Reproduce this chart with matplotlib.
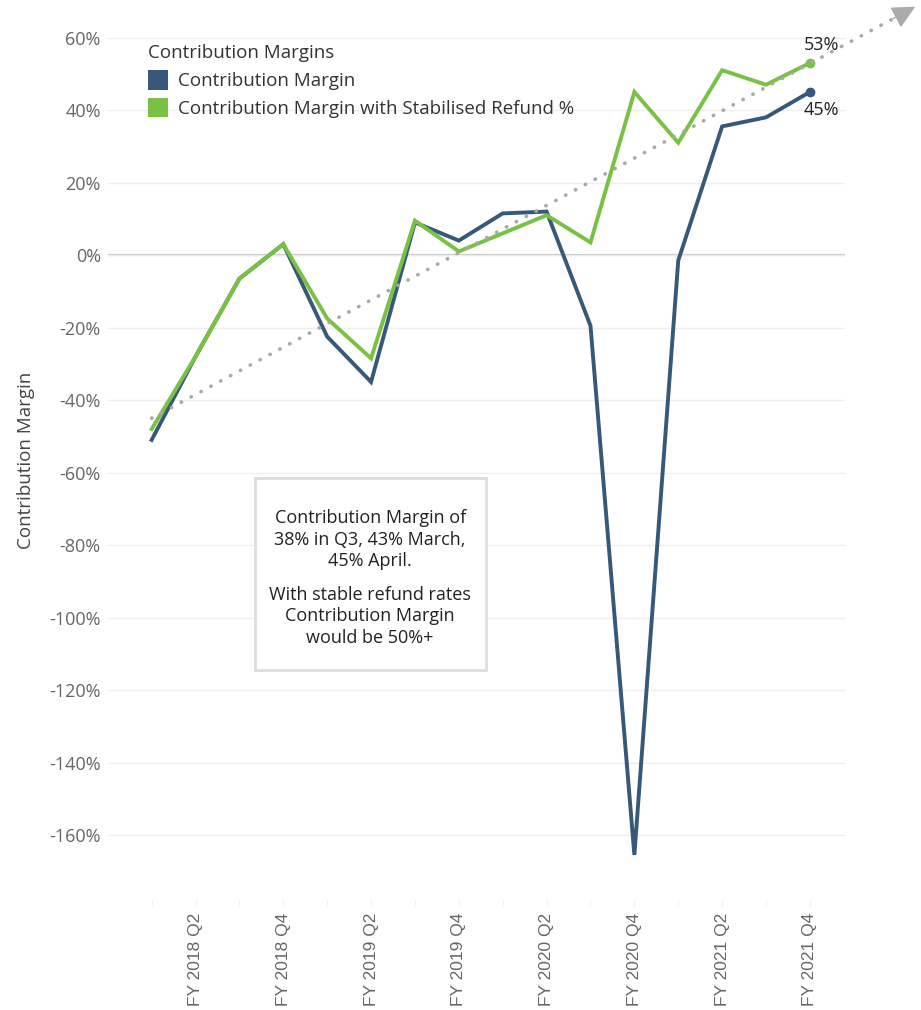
import matplotlib.pyplot as plt
import numpy as np

quarters = [f"FY {y} Q{q}" for y in (2018, 2019, 2020, 2021) for q in (1, 2, 3, 4)]
margin = [-51, -28, -6.5, 3, -22.5, -35, 9, 4, 11.5, 12, -19.5, -165.5, -1.5, 35.5, 38, 45]
margin_stable = [-48, -28, -6.5, 3, -17.5, -28.5, 9.5, 1, 6, 11, 3.5, 45, 31, 51, 47, 53]
trend_x = [0, 17.4]
trend_y = [-45, 68.5]

note_1 = "Contribution Margin of\n38% in Q3, 43% March,\n45% April."
note_2 = "With stable refund rates\nContribution Margin\nwould be 50%+"

blue = '#36597a'
green = '#78c143'
grey = '#666666'

plt.rcParams['font.family'] = ['Open Sans', 'DejaVu Sans']

fig = plt.figure(figsize=(9.21, 10.10), dpi=100)
ax = fig.add_axes([0.117, 0.109, 0.8005, 0.871])

x = np.arange(len(quarters))
ax.plot(x, margin, color=blue, lw=2.8, solid_joinstyle='miter', zorder=3)
ax.plot(x, margin_stable, color=green, lw=2.8, solid_joinstyle='miter', zorder=4)
ax.plot(x[-1], margin[-1], 'o', color=blue, ms=6, zorder=5)
ax.plot(x[-1], margin_stable[-1], 'o', color=green, ms=6, zorder=5)

# trend arrow, runs past the plot area
slope = (trend_y[1] - trend_y[0]) / (trend_x[1] - trend_x[0])
ax.plot([trend_x[0], trend_x[1] - 0.35], [trend_y[0], trend_y[1] - 0.35 * slope],
        color='#a8a8a8', lw=2.6, linestyle=(0, (0.1, 3.0)), dash_capstyle='round', clip_on=False, zorder=6)
ax.annotate('', xy=(trend_x[1], trend_y[1]), xytext=(trend_x[1] - 0.5, trend_y[1] - 0.5 * slope),
            arrowprops=dict(arrowstyle='-|>,head_length=0.9,head_width=0.45', color='#aaaaaa',
                            lw=1, shrinkA=0, shrinkB=0, mutation_scale=16),
            annotation_clip=False)

ax.text(x[-1] + 0.27, margin_stable[-1] + 2.5, f"{margin_stable[-1]}%", fontsize=13, color='#222222', ha='center', va='bottom')
ax.text(x[-1] + 0.27, margin[-1] - 2.5, f"{margin[-1]}%", fontsize=13, color='#222222', ha='center', va='top')

ax.set_xlim(-1.0, 15.8)
ax.set_ylim(-177.9, 64.8)
yt = np.arange(-160, 61, 20)
ax.set_yticks(yt)
ax.set_yticklabels([f"{v}%" for v in yt], fontsize=13, color=grey)
ax.set_xticks(x[1::2])
ax.set_xticklabels(quarters[1::2], rotation=90, fontsize=12.5, color=grey, family='Liberation Sans')
ax.set_xticks(x, minor=True)
ax.tick_params(axis='x', which='both', length=4, color='#eeeeee', pad=5)
ax.tick_params(axis='y', length=0, pad=5)
ax.grid(axis='y', color='#eeeeee', lw=1)
ax.axhline(0, color='#c4c4c4', lw=1.6, zorder=1)
for s in ax.spines.values():
    s.set_visible(False)
ax.set_ylabel('Contribution Margin', fontsize=13.5, color='#444444', labelpad=10)

leg = ax.legend([plt.Rectangle((0, 0), 1, 1, fc=blue), plt.Rectangle((0, 0), 1, 1, fc=green)],
                ['Contribution Margin', 'Contribution Margin with Stabilised Refund %'],
                title='Contribution Margins', loc='upper left', bbox_to_anchor=(0.044, 0.981),
                frameon=False, fontsize=13.5, title_fontsize=13.5, handlelength=1.1, handleheight=1.2,
                handletextpad=0.5, labelspacing=0.42, borderaxespad=0)
leg._legend_box.align = 'left'
for t in leg.get_texts():
    t.set_color('#333333')
leg.get_title().set_color('#333333')

ax.add_patch(plt.Rectangle((2.35, -114.5), 5.26, 53, fc='white', ec='#dddddd', lw=2, zorder=2))
ax.text(4.98, -78.6, note_1, ha='center', va='center', fontsize=13, color='#222222', linespacing=1.25, zorder=7)
ax.text(4.98, -99.6, note_2, ha='center', va='center', fontsize=13, color='#222222', linespacing=1.25, zorder=7)

fig.savefig('out.png')
